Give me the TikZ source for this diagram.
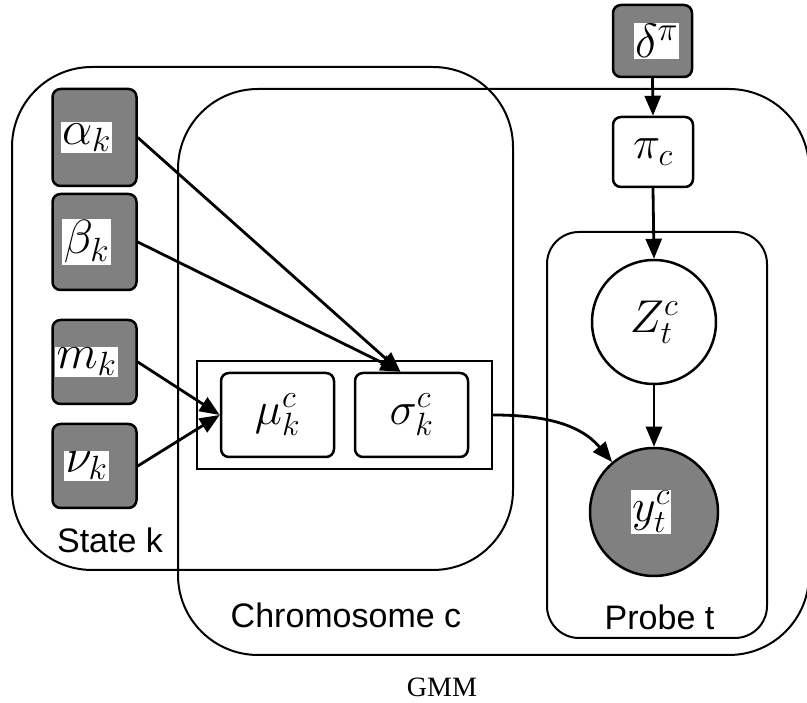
\RequirePackage{fix-cm}
\documentclass[tikz,border=0pt]{standalone}
\usepackage{fontspec}
\setsansfont{Liberation Sans}
\newfontfamily\capfont{Liberation Serif}
\usetikzlibrary{arrows.meta,calc}
\newcommand\wb[1]{{\setlength\fboxsep{1.5pt}\colorbox{white}{#1}}}
\begin{document}
\begin{tikzpicture}[x=1pt,y=1pt,
  plate/.style={draw, line width=2pt, rounded corners=80pt, inner sep=0pt},
  parbox/.style={draw, line width=2.5pt, rounded corners=8pt, fill=gray, inner sep=0pt,
    minimum width=84pt, font=\fontsize{48}{54}\selectfont},
  latbox/.style={draw, line width=2.5pt, rounded corners=8pt, fill=white, inner sep=0pt,
    font=\fontsize{46}{52}\selectfont},
  circ/.style={circle, draw, line width=2.5pt, inner sep=0pt, font=\fontsize{46}{52}\selectfont},
  arr/.style={line width=2.8pt, -{Triangle[length=20pt,width=16pt]}},
  lab/.style={font=\sffamily\fontsize{34}{40}\selectfont}
]
\clip (0,0) rectangle (807,703);
% plates
\node[plate, minimum width=501pt, minimum height=503pt] (state) at (262.5,384.5) {};
\node[plate, minimum width=631pt, minimum height=566pt] (chrom) at (493.5,331) {};
\node[plate, rounded corners=32pt, minimum width=220pt, minimum height=406pt] (probe) at (657,268) {};
\node[draw, line width=2pt, inner sep=0pt, minimum width=295pt, minimum height=108pt] (inner) at (344.5,288) {};
% plate labels
\node[lab] (lk) at (110,163) {State k};
\node[lab] (lc) at (346,88) {Chromosome c};
\node[lab] (lt) at (659.5,86) {Probe t};
\node[font=\capfont\fontsize{28}{32}\selectfont] (cap) at (442,16) {GMM};
% hyperparameters
\node[parbox, minimum height=97pt] (alpha) at (94.5,565.5) {\wb{$\alpha_k$}\kern16pt};
\node[parbox, minimum height=96pt] (beta) at (94.5,461) {\wb{$\beta_k$}\kern16pt};
\node[parbox, minimum height=84pt] (m) at (94.5,341) {\wb{$m_k$}\kern16pt};
\node[parbox, minimum height=84pt] (nu) at (94.5,237) {\wb{$\nu_k$}\kern16pt};
% chromosome parameters
\node[latbox, minimum width=113pt, minimum height=84pt] (mu) at (277.5,288) {$\mu_k^c$};
\node[latbox, minimum width=113pt, minimum height=84pt] (sigma) at (411.5,288) {$\sigma_k^c$};
% right part
\node[parbox, minimum width=79pt, minimum height=72pt] (delta) at (652.5,662) {\kern8pt\wb{$\delta^\pi$}};
\node[latbox, minimum width=80pt, minimum height=70pt] (pi) at (653,551) {$\pi_c$};
\node[circ, fill=white, minimum size=124pt] (Z) at (654,381) {$Z_t^c$};
\node[circ, fill=gray, minimum size=128pt] (y) at (654,191) {\wb{$y_t^c$}\kern6pt};
% edges
\draw[arr] (alpha.east) -- ($(sigma.north)+(-11,0)$);
\draw[arr] (beta.east) -- ($(sigma.north)+(-11,0)$);
\draw[arr] (m.east) -- (mu.west);
\draw[arr] (nu.east) -- (mu.west);
\draw[arr] (inner.east) to[out=0,in=130] (y.130);
\draw[arr] (delta.south) -- (pi.north);
\draw[arr] (pi.south) -- (Z.north);
\draw[arr] (Z.south) -- (y.north);
\end{tikzpicture}
\end{document}
